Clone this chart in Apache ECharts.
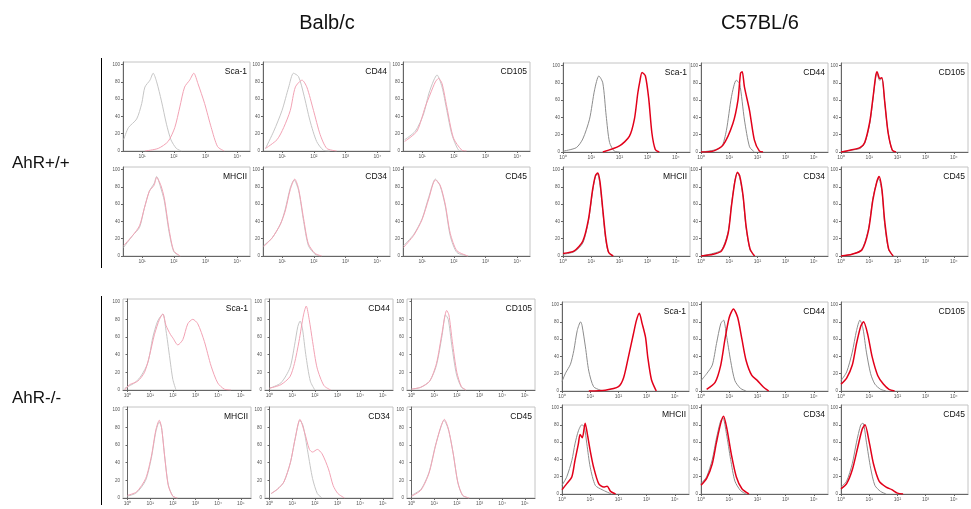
<!DOCTYPE html>
<html>
<head>
<meta charset="utf-8">
<script src="https://cdn.jsdelivr.net/npm/echarts@6/dist/echarts.min.js"></script>
<style>
  html, body { margin: 0; padding: 0; background: #fff; }
  #chart { width: 971px; height: 509px; }
</style>
</head>
<body>
<div id="chart"></div>
<script>
// panel markers, row by row
const markers = ['Sca-1', 'CD44', 'CD105', 'MHCII', 'CD34', 'CD45'];
const strains = ['Balb/c', 'C57BL/6'];
const genotypes = ['AhR+/+', 'AhR-/-'];

// tick labels (log10 decades) and % of max
const xTicksBalbWT = [1, 2, 3, 4];
const xTicksBalbKO = [0, 1, 2, 3, 4, 5];
const xTicksC57 = [0, 1, 2, 3, 4];
const yTicks = [0, 20, 40, 60, 80, 100];

// histograms: [log10 intensity, % of max]; iso = control (grey), ab = stained
// Balb/c AhR+/+
const bw_sca1_iso = [[0.42,13],[0.57,27],[0.83,37],[0.99,55],[1.09,74],[1.25,82],[1.35,90],[1.46,80],[1.61,58],[1.77,31],[1.91,13],[2.08,3],[2.24,0]];
const bw_sca1_ab = [[1.09,0],[1.51,3],[1.82,11],[2.03,27],[2.19,51],[2.34,74],[2.5,82],[2.63,90],[2.76,78],[2.97,55],[3.18,27],[3.38,5],[3.59,0]];
const bw_cd44_iso = [[0.48,3],[0.74,23],[1.0,47],[1.21,74],[1.36,90],[1.52,86],[1.68,66],[1.88,35],[2.09,11],[2.3,1],[2.5,0]];
const bw_cd44_ab = [[0.48,3],[0.84,13],[1.05,27],[1.26,47],[1.42,74],[1.63,82],[1.78,74],[1.99,47],[2.2,19],[2.41,3],[2.72,0]];
const bw_cd105_iso = [[0.45,13],[0.79,23],[1.05,43],[1.21,66],[1.37,82],[1.47,88],[1.63,74],[1.78,47],[1.94,19],[2.15,1],[2.3,0]];
const bw_cd105_ab = [[0.45,11],[0.84,23],[1.1,51],[1.26,66],[1.42,80],[1.52,84],[1.63,78],[1.78,51],[1.99,15],[2.25,1],[2.4,0]];
const bw_mhcii_iso = [[0.42,10],[0.71,24],[0.92,33],[1.07,55],[1.23,75],[1.38,84],[1.46,92],[1.58,80],[1.7,64],[1.85,28],[2.0,5],[2.2,0]];
const bw_mhcii_ab = [[0.42,12],[0.71,24],[0.92,35],[1.07,55],[1.23,75],[1.38,82],[1.46,91],[1.59,82],[1.7,67],[1.85,31],[2.0,6],[2.2,0]];
const bw_cd34_iso = [[0.42,12],[0.69,21],[0.95,37],[1.1,54],[1.26,79],[1.38,88],[1.52,76],[1.68,40],[1.83,12],[2.04,2],[2.2,0]];
const bw_cd34_ab = [[0.42,11],[0.69,21],[0.95,37],[1.1,52],[1.26,77],[1.4,89],[1.52,78],[1.68,43],[1.83,14],[2.04,3],[2.25,0]];
const bw_cd45_iso = [[0.42,12],[0.74,25],[1.0,43],[1.21,68],[1.42,89],[1.57,81],[1.73,58],[1.89,23],[2.1,4],[2.45,0]];
const bw_cd45_ab = [[0.42,10],[0.74,24],[1.0,42],[1.21,66],[1.42,88],[1.57,82],[1.73,60],[1.89,26],[2.1,6],[2.45,0]];

// C57BL/6 AhR+/+
const cw_sca1_iso = [[0,1],[0.47,5],[0.7,15],[0.94,38],[1.12,72],[1.27,88],[1.41,80],[1.53,42],[1.65,11],[1.82,1],[2.0,0]];
const cw_sca1_ab = [[1.41,0],[2.0,7],[2.35,18],[2.53,38],[2.65,68],[2.73,83],[2.8,92],[2.92,88],[3.04,61],[3.15,22],[3.27,3],[3.41,0]];
const cw_cd44_iso = [[0,0],[0.43,2],[0.73,6],[0.9,25],[1.08,64],[1.25,83],[1.37,79],[1.54,37],[1.72,6],[1.89,0]];
const cw_cd44_ab = [[0,0],[0.43,1],[0.78,8],[1.13,33],[1.31,60],[1.4,91],[1.46,93],[1.54,75],[1.72,48],[1.89,14],[2.07,1],[2.2,0]];
const cw_cd105_iso = [[0,0],[0.32,2],[0.67,4],[0.84,10],[1.02,33],[1.13,60],[1.23,87],[1.27,91],[1.37,83],[1.45,85],[1.54,60],[1.66,25],[1.81,2],[1.95,0]];
const cw_cd105_ab = [[0,0],[0.32,2],[0.67,5],[0.84,11],[1.02,35],[1.13,62],[1.23,88],[1.28,93],[1.37,85],[1.45,86],[1.55,58],[1.67,22],[1.82,2],[1.95,0]];
const cw_mhcii_iso = [[0,2],[0.4,5],[0.7,15],[0.9,40],[1.05,75],[1.15,92],[1.22,95],[1.3,85],[1.4,55],[1.5,22],[1.6,5],[1.75,0]];
const cw_mhcii_ab = [[0,3],[0.4,6],[0.7,17],[0.9,42],[1.05,77],[1.15,93],[1.23,96],[1.31,86],[1.41,54],[1.52,20],[1.62,4],[1.78,0]];
const cw_cd34_iso = [[0,0],[0.43,3],[0.73,7],[0.96,28],[1.08,60],[1.2,87],[1.29,96],[1.37,91],[1.49,68],[1.6,32],[1.74,7],[1.89,0]];
const cw_cd34_ab = [[0,0],[0.43,2],[0.73,6],[0.96,26],[1.08,58],[1.2,86],[1.29,97],[1.37,93],[1.49,70],[1.6,34],[1.74,8],[1.9,0]];
const cw_cd45_iso = [[0,0],[0.39,2],[0.74,8],[0.97,31],[1.13,67],[1.27,86],[1.33,90],[1.45,75],[1.54,39],[1.68,8],[1.84,0]];
const cw_cd45_ab = [[0,0],[0.39,2],[0.74,7],[0.97,29],[1.13,65],[1.27,86],[1.35,92],[1.45,77],[1.55,40],[1.69,8],[1.85,0]];

// Balb/c AhR-/-
const bk_sca1_iso = [[-0.13,2],[0.31,8],[0.6,16],[0.9,31],[1.11,59],[1.33,78],[1.56,86],[1.7,67],[1.85,39],[2.0,12],[2.14,0]];
const bk_sca1_ab = [[-0.13,0],[0.09,6],[0.45,10],[0.75,20],[0.97,39],[1.19,63],[1.41,80],[1.56,86],[1.7,73],[1.89,63],[2.0,59],[2.22,51],[2.44,57],[2.66,75],[2.88,80],[3.1,75],[3.39,55],[3.69,27],[3.98,8],[4.27,1],[4.56,0]];
const bk_cd44_iso = [[0,2],[0.5,8],[0.9,25],[1.1,50],[1.25,72],[1.35,78],[1.45,70],[1.6,40],[1.8,10],[2.0,0]];
const bk_cd44_ab = [[0,2],[0.5,6],[0.9,15],[1.1,30],[1.3,55],[1.5,85],[1.62,95],[1.75,80],[1.9,55],[2.1,25],[2.4,5],[2.7,0]];
const bk_cd105_iso = [[0,1],[0.4,3],[0.8,10],[1.1,28],[1.35,62],[1.5,85],[1.62,80],[1.78,50],[1.98,18],[2.2,3],[2.4,0]];
const bk_cd105_ab = [[0,1],[0.4,3],[0.8,10],[1.1,30],[1.35,65],[1.55,90],[1.65,85],[1.8,55],[2.0,20],[2.2,4],[2.4,0]];
const bk_mhcii_iso = [[0,2],[0.4,6],[0.8,20],[1.05,45],[1.25,75],[1.4,86],[1.5,80],[1.65,45],[1.8,15],[2.0,2],[2.2,0]];
const bk_mhcii_ab = [[0,3],[0.4,7],[0.8,22],[1.05,47],[1.25,77],[1.4,88],[1.5,80],[1.65,44],[1.8,14],[2.0,2],[2.2,0]];
const bk_cd34_iso = [[0.07,5],[0.35,10],[0.63,18],[0.92,40],[1.13,67],[1.34,88],[1.48,82],[1.69,52],[1.9,22],[2.11,5],[2.32,0]];
const bk_cd34_ab = [[0.07,5],[0.35,10],[0.63,18],[0.92,40],[1.13,67],[1.34,89],[1.55,74],[1.76,55],[1.9,52],[2.11,55],[2.32,50],[2.6,33],[2.81,14],[3.02,5],[3.31,0]];
const bk_cd45_iso = [[0,3],[0.42,10],[0.77,29],[1.05,59],[1.27,78],[1.43,88],[1.62,78],[1.83,52],[2.04,18],[2.25,3],[2.53,0]];
const bk_cd45_ab = [[0,2],[0.42,9],[0.77,28],[1.05,58],[1.27,79],[1.45,89],[1.63,78],[1.84,50],[2.05,17],[2.26,3],[2.55,0]];

// C57BL/6 AhR-/-
const ck_sca1_iso = [[0,11],[0.13,21],[0.3,31],[0.42,47],[0.54,70],[0.66,80],[0.71,76],[0.83,51],[0.95,23],[1.12,5],[1.36,1],[1.53,0]];
const ck_sca1_ab = [[0.95,0],[1.53,1],[2.0,5],[2.18,15],[2.35,39],[2.53,66],[2.64,82],[2.74,90],[2.84,78],[2.96,62],[3.04,39],[3.17,13],[3.34,0]];
const ck_cd44_iso = [[0,12],[0.2,20],[0.4,30],[0.55,55],[0.7,78],[0.8,82],[0.9,65],[1.05,35],[1.2,12],[1.4,3],[1.6,0]];
const ck_cd44_ab = [[0.2,2],[0.5,10],[0.7,30],[0.85,60],[1.0,85],[1.15,95],[1.3,85],[1.45,60],[1.6,35],[1.8,18],[2.0,12],[2.2,5],[2.4,0]];
const ck_cd105_iso = [[0,12],[0.2,22],[0.4,45],[0.55,70],[0.67,82],[0.78,72],[0.9,45],[1.05,20],[1.2,8],[1.4,2],[1.6,0]];
const ck_cd105_ab = [[0,8],[0.2,15],[0.4,30],[0.55,55],[0.7,75],[0.8,80],[0.95,65],[1.1,40],[1.3,18],[1.5,8],[1.7,2],[1.9,0]];
const ck_mhcii_iso = [[0,10],[0.17,20],[0.35,39],[0.46,58],[0.58,73],[0.7,80],[0.79,78],[0.88,58],[1.0,31],[1.18,10],[1.42,5],[1.75,0]];
const ck_mhcii_ab = [[0,5],[0.17,12],[0.35,20],[0.46,39],[0.58,58],[0.64,69],[0.72,65],[0.82,82],[0.9,69],[1.0,50],[1.12,31],[1.3,12],[1.48,8],[1.6,9],[1.72,3],[1.9,0]];
const ck_cd34_iso = [[0,12],[0.2,20],[0.4,40],[0.55,65],[0.7,85],[0.78,88],[0.9,70],[1.05,40],[1.2,15],[1.4,4],[1.6,0]];
const ck_cd34_ab = [[0,10],[0.2,18],[0.4,35],[0.55,60],[0.7,82],[0.8,90],[0.92,75],[1.08,45],[1.25,20],[1.45,6],[1.7,0]];
const ck_cd45_iso = [[0,8],[0.2,15],[0.4,35],[0.55,60],[0.7,80],[0.78,82],[0.9,60],[1.05,30],[1.2,10],[1.4,3],[1.6,0]];
const ck_cd45_ab = [[0,6],[0.2,12],[0.4,28],[0.6,55],[0.75,75],[0.85,80],[1.0,60],[1.15,35],[1.35,15],[1.6,8],[1.8,5],[2.0,1],[2.2,0]];

// panel tables per block, in marker order
const balbWT = [[bw_sca1_iso, bw_sca1_ab], [bw_cd44_iso, bw_cd44_ab], [bw_cd105_iso, bw_cd105_ab],
                [bw_mhcii_iso, bw_mhcii_ab], [bw_cd34_iso, bw_cd34_ab], [bw_cd45_iso, bw_cd45_ab]];
const c57WT = [[cw_sca1_iso, cw_sca1_ab], [cw_cd44_iso, cw_cd44_ab], [cw_cd105_iso, cw_cd105_ab],
               [cw_mhcii_iso, cw_mhcii_ab], [cw_cd34_iso, cw_cd34_ab], [cw_cd45_iso, cw_cd45_ab]];
const balbKO = [[bk_sca1_iso, bk_sca1_ab], [bk_cd44_iso, bk_cd44_ab], [bk_cd105_iso, bk_cd105_ab],
                [bk_mhcii_iso, bk_mhcii_ab], [bk_cd34_iso, bk_cd34_ab], [bk_cd45_iso, bk_cd45_ab]];
const c57KO = [[ck_sca1_iso, ck_sca1_ab], [ck_cd44_iso, ck_cd44_ab], [ck_cd105_iso, ck_cd105_ab],
               [ck_mhcii_iso, ck_mhcii_ab], [ck_cd34_iso, ck_cd34_ab], [ck_cd45_iso, ck_cd45_ab]];

// layout of the four blocks (pixels)
const blocks = [
  { panels: balbWT, lefts: [123, 263, 403], tops: [62, 167], w: 127, h: 89, xMin: 0.4, xMax: 4.4, xTicks: xTicksBalbWT, pale: true },
  { panels: c57WT, lefts: [563, 701, 841], tops: [63, 167], w: 127, h: 89, xMin: 0, xMax: 4.5, xTicks: xTicksC57, pale: false },
  { panels: balbKO, lefts: [123, 265, 407], tops: [299, 407], w: 128, h: 91, xMin: -0.2, xMax: 5.45, xTicks: xTicksBalbKO, pale: true },
  { panels: c57KO, lefts: [562, 701, 841], tops: [302, 405], w: 127, h: 89, xMin: 0, xMax: 4.5, xTicks: xTicksC57, pale: false }
];

const sup = ['⁰', '¹', '²', '³', '⁴', '⁵'];
const FONT = 'Liberation Sans, Arial, sans-serif';

const grids = [], xAxes = [], yAxes = [], series = [];
const graphics = [];

blocks.forEach(b => {
  b.panels.forEach((pair, i) => {
    const col = i % 3, row = Math.floor(i / 3);
    const left = b.lefts[col], top = b.tops[row];
    const idx = grids.length;
    grids.push({
      left: left, top: top, width: b.w, height: b.h,
      show: true, borderColor: '#c4c4c4', borderWidth: 1, backgroundColor: 'transparent'
    });
    xAxes.push({
      type: 'value', gridIndex: idx, min: b.xMin, max: b.xMax,
      axisLine: { show: true, onZero: false, lineStyle: { color: '#666', width: 1 } },
      axisTick: { show: true, length: 2, customValues: b.xTicks, lineStyle: { color: '#666' } },
      axisLabel: {
        customValues: b.xTicks, fontSize: 5, color: '#555', margin: 3, fontFamily: FONT,
        formatter: v => '10' + sup[Math.round(v)]
      },
      splitLine: { show: false }
    });
    yAxes.push({
      type: 'value', gridIndex: idx, min: 0, max: 103,
      axisLine: { show: true, lineStyle: { color: '#666', width: 1 } },
      axisTick: { show: true, length: 2, customValues: yTicks, lineStyle: { color: '#666' } },
      axisLabel: { customValues: yTicks, fontSize: 4.5, color: '#555', margin: 3, fontFamily: FONT },
      splitLine: { show: false }
    });
    const isoColor = b.pale ? '#c6c6c6' : '#8c8c8c';
    const abColor = b.pale ? '#f2a2b4' : '#e2001a';
    series.push({
      type: 'line', xAxisIndex: idx, yAxisIndex: idx, data: pair[0],
      showSymbol: false, smooth: 0.25, lineStyle: { color: isoColor, width: 1 }, silent: true
    });
    series.push({
      type: 'line', xAxisIndex: idx, yAxisIndex: idx, data: pair[1],
      showSymbol: false, smooth: 0.25, lineStyle: { color: abColor, width: b.pale ? 1 : 1.5 }, silent: true
    });
    graphics.push({
      type: 'text', x: left + b.w - 3, y: top + 10,
      style: { text: markers[i], font: '8.5px ' + FONT, fill: '#111', align: 'right', verticalAlign: 'middle' }
    });
  });
});

// headers and row labels
graphics.push({ type: 'text', x: 327, y: 23, style: { text: strains[0], font: '20px ' + FONT, fill: '#111', align: 'center', verticalAlign: 'middle' } });
graphics.push({ type: 'text', x: 760, y: 23, style: { text: strains[1], font: '20px ' + FONT, fill: '#111', align: 'center', verticalAlign: 'middle' } });
graphics.push({ type: 'text', x: 12, y: 163, style: { text: genotypes[0], font: '17px ' + FONT, fill: '#111', align: 'left', verticalAlign: 'middle' } });
graphics.push({ type: 'text', x: 12, y: 398, style: { text: genotypes[1], font: '17px ' + FONT, fill: '#111', align: 'left', verticalAlign: 'middle' } });
// vertical separators
graphics.push({ type: 'line', shape: { x1: 101.5, y1: 58, x2: 101.5, y2: 268 }, style: { stroke: '#000', lineWidth: 1 } });
graphics.push({ type: 'line', shape: { x1: 101.5, y1: 296, x2: 101.5, y2: 505 }, style: { stroke: '#000', lineWidth: 1 } });

const chart = echarts.init(document.getElementById('chart'), null, { renderer: 'canvas' });
chart.setOption({
  animation: false,
  backgroundColor: '#fff',
  grid: grids,
  xAxis: xAxes,
  yAxis: yAxes,
  series: series,
  graphic: graphics
});
</script>
</body>
</html>
